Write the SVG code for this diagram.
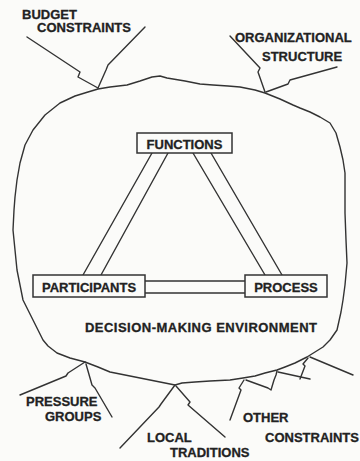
<svg xmlns="http://www.w3.org/2000/svg" width="360" height="461" viewBox="0 0 360 461">
<style>
.bg{fill:#fbfbf9}
.ln{fill:none;stroke:#333;stroke-width:1.4;stroke-linejoin:round;stroke-linecap:round}
.box{fill:#fbfbf9;stroke:#333;stroke-width:1.5}
.t{font-family:"Liberation Sans",Arial,sans-serif;font-weight:bold;font-size:13px;fill:#222;stroke:#222;stroke-width:0.3}
</style>
<rect class="bg" x="0" y="0" width="360" height="461"/>
<g id="environment">
<polygon class="ln" points="98,89 110,87 127,85 140,81 152,77 160,76 167,78 185,81 200,84 213,85 228,86 240,87 255,90 265,93 280,99 293,105 300,108 310,112 320,117 330,123 336,133 340,147 343,160 345,173 345,190 345,213 346,240 347,263 345,285 343,300 341,312 337,330 330,340 323,347 315,352 307,357 295,363 285,367 277,370 265,373 255,376 243,378 230,380 210,381 195,382 182,383 175,385 160,382 140,378 125,375 110,372 98,367 85,362 70,358 57,353 48,346 43,340 38,330 33,320 28,310 23,300 20,285 17,270 15,250 13,230 14,210 15,197 17,180 20,163 25,145 33,130 45,115 60,103 75,96 88,92"/>
<text class="t" x="85" y="332" textLength="232" lengthAdjust="spacing">DECISION-MAKING ENVIRONMENT</text>
</g>
<g id="connectors">
<line class="ln" x1="152" y1="153" x2="83" y2="275"/>
<line class="ln" x1="168" y1="153" x2="101" y2="275"/>
<line class="ln" x1="193" y1="153" x2="265" y2="275"/>
<line class="ln" x1="211" y1="153" x2="282" y2="275"/>
<line class="ln" x1="145" y1="281" x2="245" y2="281"/>
<line class="ln" x1="145" y1="293" x2="245" y2="293"/>
<polyline class="ln" points="27,37 80,72 78,77 98,88"/>
<polyline class="ln" points="145,27 108,65 106,70 98,88"/>
<polyline class="ln" points="230,36 260,68 258,72 265,92"/>
<polyline class="ln" points="337,67 290,80 288,84 266,92"/>
<polyline class="ln" points="20,395 66,376 68,373 85,362"/>
<polyline class="ln" points="86,364 92,385 95,388 112,417"/>
<polyline class="ln" points="175,385 161,404 159,407 120,448"/>
<polyline class="ln" points="176,386 190,402 188,405 225,437"/>
<polyline class="ln" points="230,420 241,390 239,388 244,380"/>
<polyline class="ln" points="246,380 268,388 271,390 274,380 276,375 277,371"/>
<polyline class="ln" points="278,372 310,379"/>
<polyline class="ln" points="300,379 305,366 303,364 308,358"/>
<polyline class="ln" points="310,357 353,375"/>
</g>
<g id="functions">
<rect class="box" x="137" y="133" width="95" height="20"/>
<text class="t" x="184.5" y="148.5" text-anchor="middle">FUNCTIONS</text>
</g>
<g id="participants">
<rect class="box" x="33" y="275" width="112" height="22"/>
<text class="t" x="89" y="291.5" text-anchor="middle">PARTICIPANTS</text>
</g>
<g id="process">
<rect class="box" x="245" y="275" width="82" height="22"/>
<text class="t" x="286" y="291.5" text-anchor="middle">PROCESS</text>
</g>
<g id="budget">
<text class="t" x="22" y="19">BUDGET</text>
<text class="t" x="37" y="32">CONSTRAINTS</text>
</g>
<g id="organizational">
<text class="t" x="235" y="42">ORGANIZATIONAL</text>
<text class="t" x="262" y="61">STRUCTURE</text>
</g>
<g id="pressure">
<text class="t" x="26" y="406">PRESSURE</text>
<text class="t" x="45" y="421">GROUPS</text>
</g>
<g id="local">
<text class="t" x="147" y="442">LOCAL</text>
<text class="t" x="170" y="457">TRADITIONS</text>
</g>
<g id="other">
<text class="t" x="243" y="422">OTHER</text>
<text class="t" x="265" y="442">CONSTRAINTS</text>
</g>
</svg>
